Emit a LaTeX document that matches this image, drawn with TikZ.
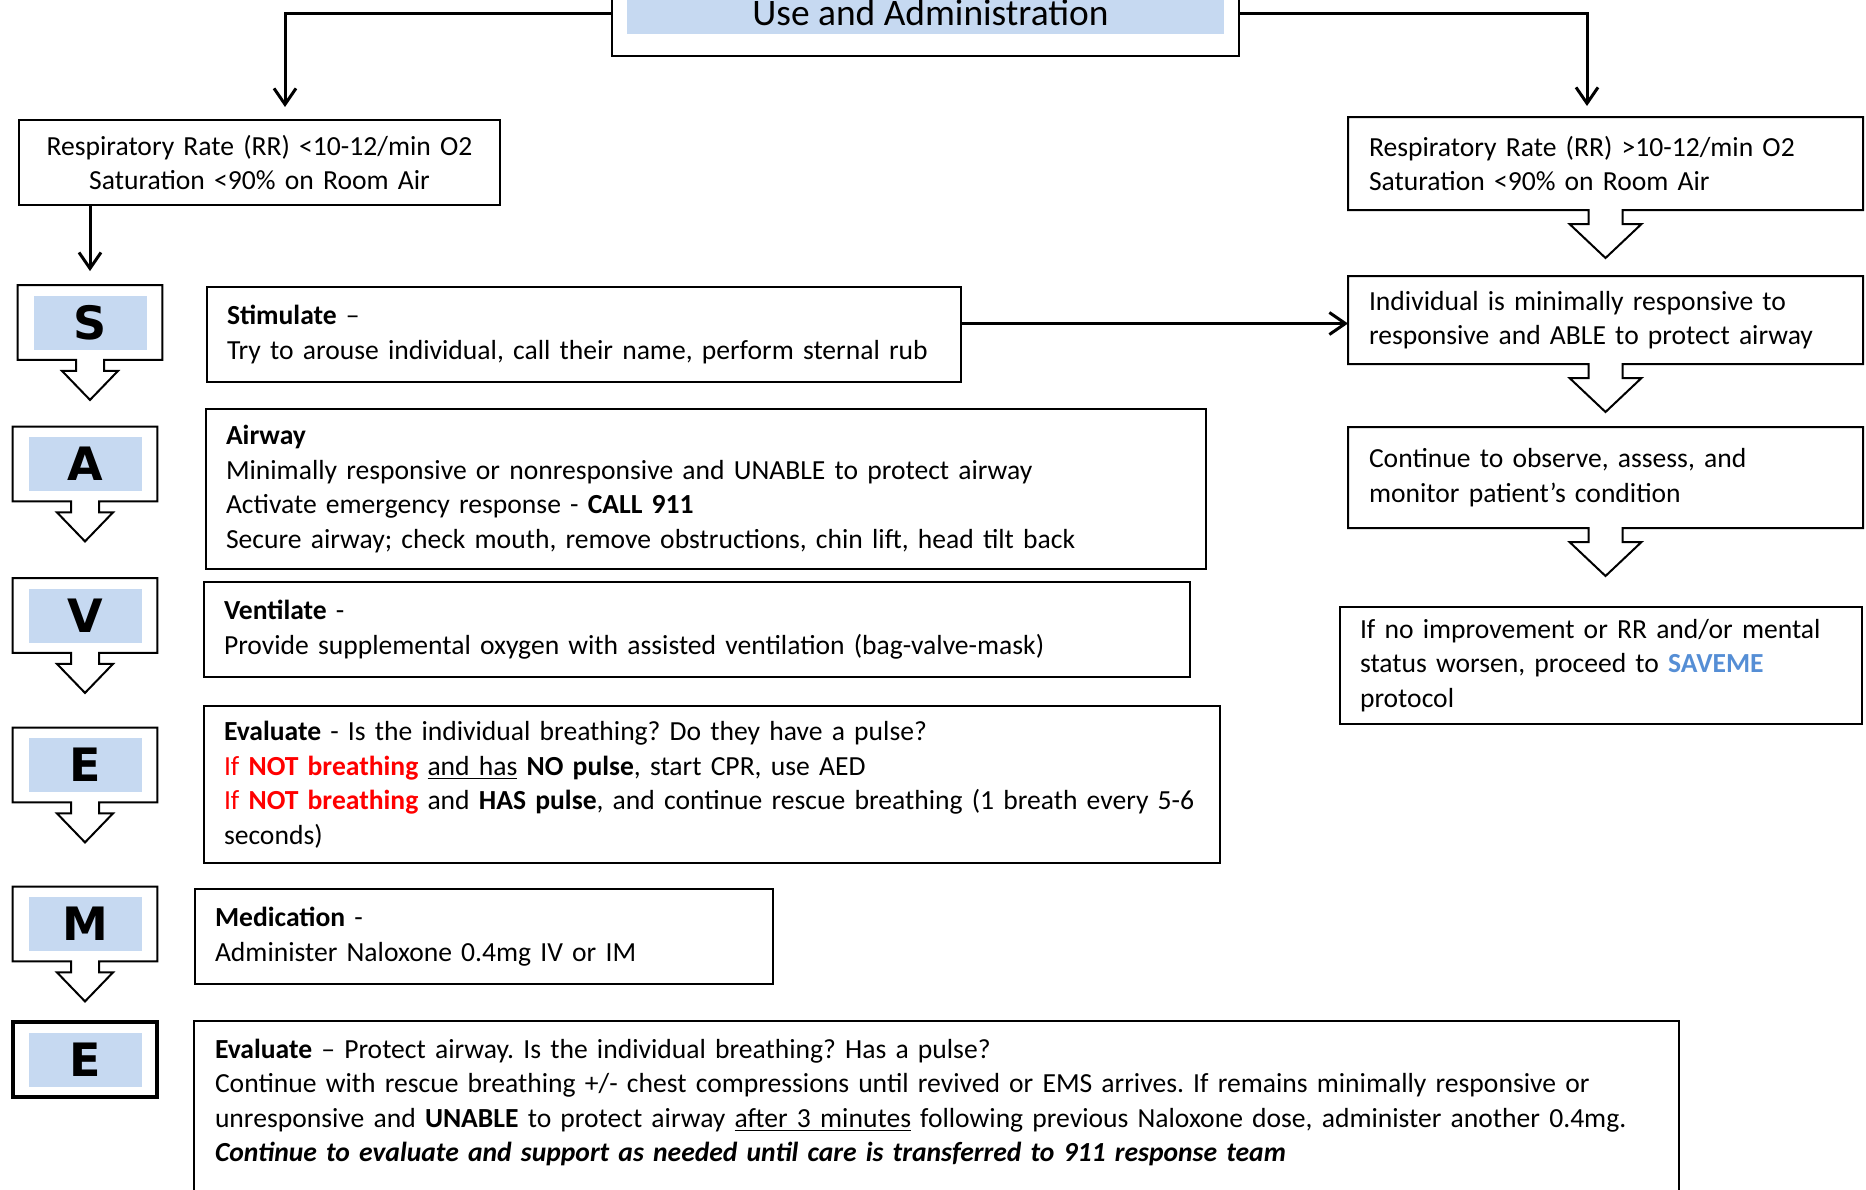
\documentclass[tikz,border=0pt]{standalone}
\usepackage{fontspec}
\setmainfont{Carlito}
\newfontfamily\letterfamily{DejaVu Sans}
\usetikzlibrary{arrows.meta}

\definecolor{fillblue}{HTML}{C6D9F1}
\definecolor{saveblue}{HTML}{558ED5}

\newcommand{\bodyfont}{\fontsize{13.8pt}{17.25pt}\selectfont\frenchspacing}
\newcommand{\titlefont}{\fontsize{18.7pt}{22pt}\selectfont}
\newcommand{\letterfont}{\letterfamily\bfseries\fontsize{23pt}{26pt}\selectfont}

% box outline with a hollow arrow under it: node, stem half width, head half width, stem length, head length
\newcommand{\callout}[5]{%
	\draw[boxline] (#1.south west) -- (#1.north west) -- (#1.north east) -- (#1.south east)
	-- ([xshift=#2]#1.south) -- ([shift={(#2,-#4)}]#1.south) -- ([shift={(#3,-#4)}]#1.south)
	-- ([yshift=-#4-#5]#1.south) -- ([shift={(-#3,-#4)}]#1.south) -- ([shift={(-#2,-#4)}]#1.south)
	-- ([xshift=-#2]#1.south) -- cycle;}

\begin{document}
\begin{tikzpicture}[x=0.5pt, y=-0.5pt]
			\tikzstyle{txtbox} = [draw=black, line width=1pt, rectangle, anchor=north west, align=left, inner xsep=10pt, inner ysep=0pt, font=\bodyfont]
			\tikzstyle{openbox} = [txtbox, draw=none]
			\tikzstyle{letterbox} = [rectangle, minimum width=72pt, minimum height=37pt, inner sep=0pt]
			\tikzstyle{letterfill} = [rectangle, fill=fillblue, minimum width=56.5pt, minimum height=27pt, inner sep=0pt, font=\letterfont]
			\tikzstyle{boxline} = [line width=1pt, line join=miter]
			\tikzstyle{conn} = [line width=1.5pt, -{Straight Barb[length=8pt, width=11pt]}]
			
			\useasboundingbox (0,0) rectangle (1866,1189);
			\clip (0,0) rectangle (1866,1189);
			
			% title
			\node[draw, line width=1pt, minimum width=313.5pt, minimum height=38pt] at (925.5,18) (titlebox) {};
			\node[fill=fillblue, minimum width=298.5pt, minimum height=27pt] at (925.5,7) (titlefill) {};
			\node[font=\titlefont, anchor=base, inner sep=0pt] at (930.5,25) (title) {Use and Administration};
			
			% two branches
			\node[txtbox, align=center, text width=220.5pt, minimum height=42.5pt] at (18,119) (rrlow) {Respiratory Rate (RR) <10-12/min O2\\Saturation <90\% on Room Air};
			\node[openbox, text width=236.5pt, minimum height=45.5pt] at (1348,117) (rrhigh) {Respiratory Rate (RR) >10-12/min O2\\Saturation <90\% on Room Air};
			\node[openbox, text width=236.5pt, minimum height=43pt] at (1348,276) (able) {Individual is minimally responsive to\\responsive and ABLE to protect airway};
			\node[openbox, text width=236.5pt, minimum height=49.5pt] at (1348,427) (observe) {Continue to observe, assess, and\\monitor patient’s condition};
			\node[txtbox, text width=241pt, minimum height=58.5pt] at (1339,606) (worsen) {If no improvement or RR and/or mental\\status worsen, proceed to \textcolor{saveblue}{\textbf{SAVEME}}\\protocol};
			
			% letters
			\node[letterbox] at (90,322.5) (boxS) {};
			\node[letterfill] at (boxS) (letS) {S};
			\node[letterbox] at (85,464) (boxA) {};
			\node[letterfill] at (boxA) (letA) {A};
			\node[letterbox] at (85,615.5) (boxV) {};
			\node[letterfill] at (boxV) (letV) {V};
			\node[letterbox] at (85,765) (boxE) {};
			\node[letterfill] at (boxE) (letE) {E};
			\node[letterbox] at (85,924) (boxM) {};
			\node[letterfill] at (boxM) (letM) {M};
			\node[letterbox] at (85,1059.5) (boxEE) {};
			\node[letterfill] at (boxEE) (letEE) {E};
			
			% steps
			\node[txtbox, text width=357pt, minimum height=47.5pt] at (206,286) (stim) {\textbf{Stimulate} –\\Try to arouse individual, call their name, perform sternal rub};
			\node[txtbox, text width=480pt, minimum height=80pt] at (205,408) (airway) {\textbf{Airway}\\Minimally responsive or nonresponsive and UNABLE to protect airway\\Activate emergency response - \textbf{CALL 911}\\Secure airway; check mouth, remove obstructions, chin lift, head tilt back};
			\node[txtbox, text width=473pt, minimum height=47.5pt] at (203,581) (vent) {\textbf{Ventilate} -\\Provide supplemental oxygen with assisted ventilation (bag-valve-mask)};
			\node[txtbox, text width=488pt, minimum height=78.5pt] at (203,705) (eval) {\textbf{Evaluate} - Is the individual breathing? Do they have a pulse?\\\textcolor{red}{If \textbf{NOT breathing}} \underline{and has} \textbf{NO pulse}, start CPR, use AED\\\mbox{\textcolor{red}{If \textbf{NOT breathing}} and \textbf{HAS pulse}, and continue rescue breathing (1 breath every 5-6}\\seconds)};
			\node[txtbox, text width=269pt, minimum height=47.5pt] at (194,888) (med) {\textbf{Medication} -\\Administer Naloxone 0.4mg IV or IM};
			\node[openbox, text width=721.5pt, inner ysep=8.5pt] at (194,1021) (final) {\textbf{Evaluate} – Protect airway. Is the individual breathing? Has a pulse?\\Continue with rescue breathing +/- chest compressions until revived or EMS arrives. If remains minimally responsive or\\\mbox{unresponsive and \textbf{UNABLE} to protect airway \underline{after 3 minutes} following previous Naloxone dose, administer another 0.4mg.}\\\textbf{\textit{Continue to evaluate and support as needed until care is transferred to 911 response team}}};
			
			% outlines
			\callout{rrhigh}{8.5pt}{18pt}{7pt}{17pt}
			\callout{able}{8.5pt}{18pt}{7pt}{17pt}
			\callout{observe}{8.5pt}{18pt}{7pt}{17pt}
			\callout{boxS}{7pt}{14pt}{5.5pt}{14.5pt}
			\callout{boxA}{7pt}{14pt}{5.5pt}{14.5pt}
			\callout{boxV}{7pt}{14pt}{5.5pt}{14.5pt}
			\callout{boxE}{7pt}{14pt}{5.5pt}{14.5pt}
			\callout{boxM}{7pt}{14pt}{5.5pt}{14.5pt}
			\draw[line width=2pt] (boxEE.south west) rectangle (boxEE.north east);
			\draw[boxline] ([yshift=-100pt]final.north west) -- (final.north west) -- (final.north east) -- ([yshift=-100pt]final.north east);
			
			% connectors
			\coordinate (ablein) at ([yshift=-1.75pt]able.west);
			\draw[conn, shorten >=6pt] ([yshift=2.5pt]titlebox.west) -| ([xshift=12.75pt]rrlow.north);
			\draw[conn, shorten >=5.5pt] ([yshift=2.5pt]titlebox.east) -| ([xshift=-9.25pt]rrhigh.north);
			\draw[conn, shorten >=7pt] (rrlow.south -| boxS.north) -- (boxS.north);
			\draw[conn] (stim.east |- ablein) -- (ablein);
\end{tikzpicture}
\end{document}
